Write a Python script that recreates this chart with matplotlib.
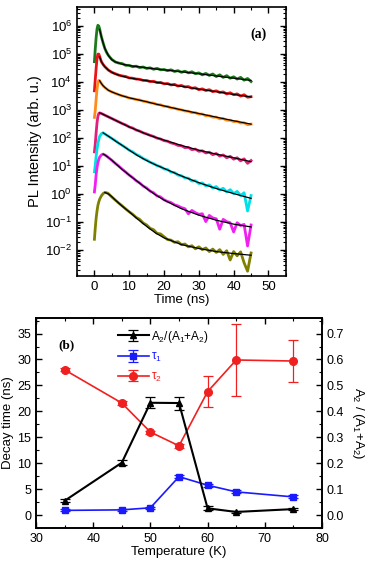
import numpy as np
import matplotlib
matplotlib.use("Agg")
import matplotlib.pyplot as plt
from matplotlib.ticker import AutoMinorLocator, MultipleLocator, LogLocator, NullFormatter, FormatStrFormatter

plt.rcParams['font.family'] = ['Liberation Sans', 'DejaVu Sans']
plt.rcParams['mathtext.default'] = 'regular'

# ---- panel (a): PL decays, values are log10(intensity) ----
t_data = [0, 0.25, 0.5, 0.75, 1, 1.25, 1.5, 2, 2.5, 3, 3.5, 4, 4.5, 5,
          6, 7, 8, 9, 10, 11, 12, 13, 14, 15, 16, 17, 18, 19, 20, 21, 22, 23, 24, 25,
          26, 27, 28, 29, 30, 31, 32, 33, 34, 35, 36, 37, 38, 39, 40, 41, 42, 43, 44, 45]

green_data = [4.73, 5.2, 5.6, 5.9, 6.03, 6.0, 5.9, 5.62, 5.4, 5.2, 5.06, 4.96, 4.88, 4.81,
              4.72, 4.68, 4.66, 4.60, 4.60, 4.55, 4.57, 4.52, 4.54, 4.49, 4.51, 4.46, 4.49, 4.44, 4.45, 4.41,
              4.44, 4.38, 4.41, 4.35, 4.39, 4.33, 4.37, 4.30, 4.33, 4.26, 4.31, 4.24, 4.29, 4.20, 4.26, 4.17,
              4.23, 4.14, 4.19, 4.11, 4.17, 4.07, 4.13, 4.02]
red_data = [3.69, 4.1, 4.5, 4.85, 5.0, 5.0, 4.92, 4.73, 4.63, 4.55, 4.49, 4.43, 4.39, 4.35,
            4.30, 4.25, 4.22, 4.20, 4.15, 4.14, 4.11, 4.10, 4.06, 4.06, 4.02, 4.03, 3.98, 3.99, 3.94, 3.95,
            3.90, 3.92, 3.86, 3.88, 3.83, 3.84, 3.78, 3.80, 3.73, 3.76, 3.70, 3.73, 3.66, 3.69, 3.63, 3.65,
            3.58, 3.62, 3.55, 3.58, 3.50, 3.55, 3.46, 3.48]
orange_data = [2.74, 3.0, 3.4, 3.75, 3.98, 4.06, 4.05, 3.95, 3.87, 3.81, 3.76, 3.71, 3.68, 3.65,
               3.60, 3.55, 3.51, 3.48, 3.43, 3.41, 3.38, 3.36, 3.32, 3.30, 3.26, 3.25, 3.20, 3.19, 3.14, 3.13,
               3.08, 3.07, 3.03, 3.01, 2.97, 2.96, 2.91, 2.91, 2.86, 2.86, 2.80, 2.80, 2.75, 2.75, 2.69, 2.70,
               2.64, 2.64, 2.59, 2.60, 2.54, 2.55, 2.48, 2.50]
pink_data = [1.51, 1.8, 2.2, 2.55, 2.78, 2.88, 2.90, 2.88, 2.85, 2.82, 2.79, 2.76, 2.73, 2.70,
             2.64, 2.58, 2.52, 2.47, 2.40, 2.36, 2.29, 2.25, 2.19, 2.15, 2.10, 2.06, 2.00, 1.97, 1.91, 1.89,
             1.83, 1.80, 1.74, 1.73, 1.66, 1.67, 1.59, 1.61, 1.53, 1.55, 1.47, 1.50, 1.41, 1.45, 1.36, 1.40,
             1.30, 1.35, 1.25, 1.30, 1.19, 1.26, 1.10, 1.20]
cyan_data = [0.80, 1.05, 1.35, 1.6, 1.8, 1.95, 2.06, 2.16, 2.19, 2.15, 2.11, 2.07, 2.03, 1.99,
             1.91, 1.82, 1.74, 1.66, 1.57, 1.51, 1.42, 1.36, 1.27, 1.22, 1.14, 1.09, 1.02, 0.98, 0.90, 0.88,
             0.79, 0.77, 0.68, 0.66, 0.58, 0.57, 0.47, 0.48, 0.38, 0.40, 0.30, 0.33, 0.22, 0.27, 0.15, 0.21,
             0.08, 0.16, 0.02, 0.10, -0.05, 0.05, -0.60, -0.05]
magenta_data = [0.08, 0.35, 0.7, 0.95, 1.12, 1.24, 1.32, 1.40, 1.43, 1.40, 1.36, 1.31, 1.26, 1.21,
                1.10, 1.00, 0.89, 0.79, 0.68, 0.59, 0.48, 0.40, 0.29, 0.22, 0.11, 0.05, -0.06, -0.10,
                -0.20, -0.26, -0.30, -0.38, -0.42, -0.48, -0.52, -0.70, -0.58, -0.66, -0.72, -0.70, -0.98,
                -0.76, -0.85, -0.88, -1.25, -0.90, -0.98, -1.02, -1.35, -1.02, -1.12, -1.08, -1.85, -1.10]
olive_data = [-1.61, -1.2, -0.85, -0.6, -0.40, -0.28, -0.18, -0.06, 0.02, 0.06, 0.05, 0.02, -0.04, -0.10,
              -0.21, -0.32, -0.42, -0.53, -0.63, -0.72, -0.83, -0.90, -1.03, -1.10, -1.22, -1.27, -1.40, -1.42,
              -1.52, -1.62, -1.64, -1.72, -1.70, -1.80, -1.78, -1.88, -1.84, -1.95, -1.88, -1.98, -1.92,
              -2.05, -1.96, -2.08, -1.98, -2.15, -2.02, -2.35, -2.05, -2.20, -2.06, -2.45, -2.75, -2.10]

t_fit = [1, 1.5, 2, 2.5, 3, 4, 5, 6, 8, 10, 12.5, 15, 17.5, 20, 25, 30, 35, 40, 45]
nan = np.nan
green_fit = [nan, 5.88, 5.62, 5.4, 5.2, 4.95, 4.8, 4.72, 4.64, 4.59, 4.55, 4.51, 4.47, 4.44, 4.37, 4.30, 4.22, 4.14, 4.06]
red_fit = [nan, 4.9, 4.73, 4.63, 4.55, 4.43, 4.35, 4.29, 4.21, 4.15, 4.10, 4.05, 4.0, 3.95, 3.85, 3.75, 3.66, 3.56, 3.47]
orange_fit = [nan, 4.05, 3.95, 3.87, 3.81, 3.71, 3.65, 3.60, 3.51, 3.44, 3.37, 3.30, 3.22, 3.15, 3.01, 2.88, 2.75, 2.62, 2.50]
pink_fit = [nan, 2.90, 2.88, 2.85, 2.82, 2.76, 2.70, 2.64, 2.52, 2.40, 2.27, 2.14, 2.03, 1.93, 1.74, 1.57, 1.43, 1.30, 1.16]
cyan_fit = [nan, nan, nan, 2.19, 2.15, 2.07, 1.99, 1.90, 1.74, 1.57, 1.37, 1.20, 1.05, 0.92, 0.65, 0.41, 0.20, 0.02, -0.15]
magenta_fit = [nan, nan, nan, 1.43, 1.40, 1.31, 1.21, 1.10, 0.88, 0.68, 0.44, 0.20, -0.02, -0.21, -0.52, -0.75, -0.93, -1.07, -1.17]
olive_fit = [nan, nan, nan, nan, 0.06, 0.01, -0.09, -0.21, -0.43, -0.63, -0.90, -1.15, -1.38, -1.56, -1.80, -1.94, -2.05, -2.12, -2.18]

decays = [
    (green_data, green_fit, '#1c7a1c'),
    (red_data, red_fit, '#e81418'),
    (orange_data, orange_fit, '#ff8c1a'),
    (pink_data, pink_fit, '#e0207a'),
    (cyan_data, cyan_fit, '#00e0e8'),
    (magenta_data, magenta_fit, '#f020f0'),
    (olive_data, olive_fit, '#808000'),
]

# ---- panel (b): fit parameters vs temperature ----
temperature = [35, 45, 50, 55, 60, 65, 75]
tau1 = [0.9, 1.0, 1.4, 7.4, 5.75, 4.47, 3.5]
tau1_err = [0.2, 0.2, 0.2, 0.3, 0.3, 0.3, 0.3]
tau2 = [28.0, 21.6, 16.0, 13.35, 23.8, 29.9, 29.7]
tau2_err = [0.3, 0.3, 0.3, 0.4, 3.0, 6.9, 4.0]
ratio = [0.055, 0.202, 0.433, 0.432, 0.026, 0.012, 0.023]
ratio_err = [0.005, 0.01, 0.022, 0.025, 0.008, 0.004, 0.004]

fig = plt.figure(figsize=(3.69, 5.66), dpi=100)

# === (a) ===
ax1 = fig.add_axes([0.2087, 0.5124, 0.566, 0.4752])
for data, fit, c in decays:
    ax1.plot(t_data, 10 ** np.array(data), color=c, lw=2.0)
    ax1.plot(t_fit, 10 ** np.array(fit), color='black', lw=0.9)
ax1.set_yscale('log')
ax1.set_xlim(-5, 55)
ax1.set_ylim(1.2e-3, 4.8e6)
ax1.xaxis.set_major_locator(MultipleLocator(10))
ax1.xaxis.set_minor_locator(MultipleLocator(5))
ax1.yaxis.set_major_locator(LogLocator(base=10, numticks=20))
ax1.yaxis.set_minor_locator(LogLocator(base=10, subs=np.arange(2, 10), numticks=20))
ax1.yaxis.set_minor_formatter(NullFormatter())
ax1.tick_params(which='both', direction='in', top=True, right=True, labelsize=9.5)
ax1.tick_params(which='major', length=4, width=1)
ax1.tick_params(which='minor', length=2.5, width=0.8)
ax1.set_xlabel('Time (ns)', fontsize=9.5, labelpad=1)
ax1.set_ylabel('PL Intensity (arb. u.)', fontsize=10.5, labelpad=2)
ax1.text(0.87, 0.9, '(a)', transform=ax1.transAxes, family='Liberation Serif',
         fontweight='bold', fontsize=10, ha='center', va='center')
for s in ax1.spines.values():
    s.set_linewidth(1.2)

# === (b) ===
ax2 = fig.add_axes([0.0976, 0.0671, 0.775, 0.3711])
ax3 = ax2.twinx()
l_ratio = ax3.errorbar(temperature, ratio, yerr=ratio_err, color='black', marker='^', ms=5,
                       lw=1.5, capsize=3.5, elinewidth=0.9, capthick=0.9)
l_tau1 = ax2.errorbar(temperature, tau1, yerr=tau1_err, color='#1a1aff', marker='s', ms=5,
                      lw=1.2, capsize=3.5, elinewidth=0.9, capthick=0.9)
l_tau2 = ax2.errorbar(temperature, tau2, yerr=tau2_err, color='#f02020', marker='o', ms=5.5,
                      lw=1.2, capsize=3.5, elinewidth=0.9, capthick=0.9)
ax2.set_xlim(30, 80)
ax2.set_ylim(-2.5, 38)
ax3.set_ylim(-0.05, 0.76)
ax2.xaxis.set_major_locator(MultipleLocator(10))
ax2.xaxis.set_minor_locator(MultipleLocator(5))
ax2.yaxis.set_major_locator(MultipleLocator(5))
ax2.yaxis.set_minor_locator(AutoMinorLocator(2))
ax3.yaxis.set_major_locator(MultipleLocator(0.1))
ax3.yaxis.set_minor_locator(AutoMinorLocator(2))
ax3.yaxis.set_major_formatter(FormatStrFormatter('%.1f'))
ax2.tick_params(which='both', direction='in', top=True, labelsize=9)
ax3.tick_params(which='both', direction='in', labelsize=9)
for a in (ax2, ax3):
    a.tick_params(which='major', length=4, width=1)
    a.tick_params(which='minor', length=2.5, width=0.8)
    for s in a.spines.values():
        s.set_linewidth(1.2)
ax2.set_xlabel('Temperature (K)', fontsize=9.5, labelpad=1)
ax2.set_ylabel('Decay time (ns)', fontsize=9.5, labelpad=2)
ax3.set_ylabel('A$_2$ / (A$_1$+A$_2$)', fontsize=9.5, rotation=270, labelpad=16)
ax2.text(0.105, 0.87, '(b)', transform=ax2.transAxes, family='Liberation Serif',
         fontweight='bold', fontsize=9.5, ha='center', va='center')
leg = ax3.legend([l_ratio, l_tau1, l_tau2], ['A$_2$/(A$_1$+A$_2$)', r'$\tau_1$', r'$\tau_2$'],
                 loc='upper left', bbox_to_anchor=(0.25, 1.0), frameon=False, fontsize=8.5,
                 numpoints=1, handlelength=2.6, handletextpad=0.2, labelspacing=0.55,
                 labelcolor=['black', '#1a1aff', '#f02020'])

fig.savefig('out.png', dpi=100)
